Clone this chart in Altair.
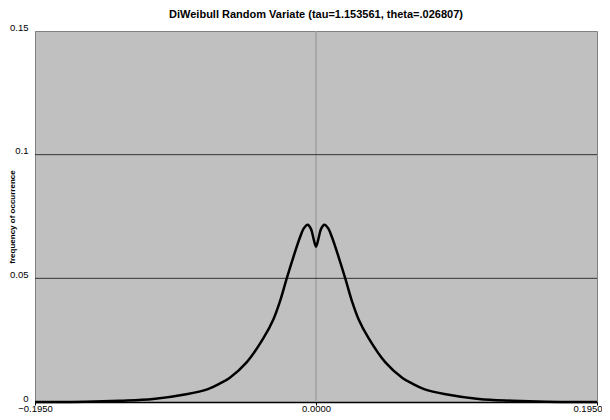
import altair as alt
import pandas as pd

# values
xs = [-0.195, -0.16, -0.136, -0.113, -0.090, -0.075, -0.0666, -0.060, -0.048, -0.0366,
      -0.0296, -0.025, -0.0203, -0.0157, -0.0111, -0.0085, -0.0058, -0.0035, -0.0015,
      0.0,
      0.0015, 0.0035, 0.0058, 0.0085, 0.0111, 0.0157, 0.0203, 0.025, 0.0296,
      0.0366, 0.048, 0.060, 0.0666, 0.075, 0.090, 0.113, 0.136, 0.16, 0.195]
ys = [0.0, 0.0001, 0.0005, 0.0012, 0.0031, 0.0052, 0.0075, 0.0097, 0.0161, 0.0257,
      0.0334, 0.0407, 0.0500, 0.0586, 0.0666, 0.0702, 0.0717, 0.0700, 0.0655,
      0.0628,
      0.0655, 0.0700, 0.0717, 0.0702, 0.0666, 0.0586, 0.0500, 0.0407, 0.0334,
      0.0257, 0.0161, 0.0097, 0.0075, 0.0052, 0.0031, 0.0012, 0.0005, 0.0001, 0.0]

y_ticks = [0, 0.05, 0.1, 0.15]
x_ticks = [-0.195, 0.0, 0.195]
grid_lines = [0.05, 0.1]

df = pd.DataFrame({"x": xs, "y": ys})
gdf = pd.DataFrame({"g": grid_lines})
zdf = pd.DataFrame({"z": [0.0]})

FONT = "Liberation Sans"
W, H = 562, 371

xscale = alt.Scale(domain=[-0.195, 0.195], nice=False, zero=False)
yscale = alt.Scale(domain=[0, 0.15], nice=False)

xaxis = alt.Axis(values=x_ticks, format=".4f", title=None, grid=False,
                 domainColor="black", domainWidth=1.5, tickColor="black", tickSize=3,
                 labelFont=FONT, labelFontSize=9.5, labelColor="black", labelPadding=-2,
                 labelFlush=False,
                 labelAlign={"condition": {"test": "datum.value > 0.1", "value": "right"},
                             "value": "center"},
                 labelOffset={"condition": {"test": "datum.value > 0.1", "value": 5},
                              "value": 0})
yaxis = alt.Axis(values=y_ticks, format=".2~f", title="frequency of occurrence", grid=False,
                 domainColor="#808080", ticks=False, labelFont=FONT, labelFontSize=9.5,
                 labelColor="black", labelPadding=7, labelBaseline="middle", labelOffset=-4,
                 titleFont=FONT, titleFontSize=8, titleFontWeight="bold", titleColor="black",
                 titleX=-23, titleY=H / 2, titleAngle=-90, titleAlign="center",
                 titleBaseline="middle")

zero_rule = alt.Chart(zdf).mark_rule(color="#a0a0a0", strokeWidth=1.5).encode(
    x=alt.X("z:Q", scale=xscale, axis=xaxis)
)

grid = alt.Chart(gdf).mark_rule(color="#333333", strokeWidth=1).encode(
    y=alt.Y("g:Q", scale=yscale, axis=yaxis)
)

line = alt.Chart(df).mark_line(color="black", strokeWidth=2.5, interpolate="catmull-rom").encode(
    x=alt.X("x:Q", scale=xscale, axis=xaxis),
    y=alt.Y("y:Q", scale=yscale, axis=yaxis),
)

chart = alt.layer(zero_rule, grid, line).properties(
    width=W, height=H,
    title=alt.TitleParams("DiWeibull Random Variate (tau=1.153561, theta=.026807)",
                          font=FONT, fontSize=11, fontWeight="bold", color="black",
                          anchor="middle", frame="group", offset=2),
    autosize=alt.AutoSizeParams(type="none"),
    padding={"left": 27, "top": 23, "right": 5, "bottom": 10},
).configure_view(
    fill="#c0c0c0", stroke="#808080", strokeWidth=1
)

chart.save("out.html", embed_options={"renderer": "svg", "actions": False})
